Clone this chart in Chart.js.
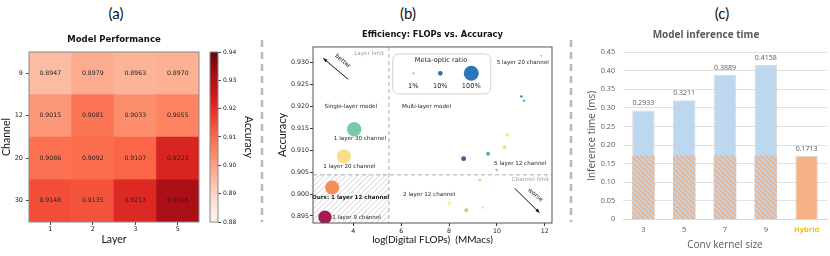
<!DOCTYPE html>
<html>
<head>
<meta charset="utf-8">
<script src="https://cdn.jsdelivr.net/npm/chart.js@4.4.0/dist/chart.umd.min.js"></script>
<style>
  html, body { margin: 0; padding: 0; background: #fff; }
  #wrap { position: relative; width: 830px; height: 256px; overflow: hidden; }
  canvas { position: absolute; top: 0; }
  .tag { position: absolute; top: 4px; font: 15px Lato, sans-serif; color: #111; transform: translateX(-50%); }
  svg { position: absolute; left: 0; top: 0; }
</style>
</head>
<body>
<div id="wrap">
  <svg width="830" height="256">
    <line x1="262" y1="40" x2="262" y2="222" stroke="#b8b8b8" stroke-width="2.5" stroke-dasharray="7 5"/>
    <line x1="571" y1="40" x2="571" y2="222" stroke="#b8b8b8" stroke-width="2.5" stroke-dasharray="7 5"/>
  </svg>
  <div class="tag" style="left:116px">(a)</div>
  <div class="tag" style="left:408px">(b)</div>
  <div class="tag" style="left:722px">(c)</div>
  <canvas id="heat" width="232" height="256" style="left:0;width:232px;height:256px"></canvas>
  <canvas id="cbar" width="60" height="256" style="left:200px;width:60px;height:256px"></canvas>
  <canvas id="eff" width="300" height="256" style="left:262px;width:300px;height:256px"></canvas>
  <canvas id="inf" width="245" height="256" style="left:585px;width:245px;height:256px"></canvas>
</div>
<script>
// (a) model performance, rows = channels, columns = layers
const layers = ['1', '2', '3', '5'];
const channels = ['9', '12', '20', '30'];
const acc9 = [0.8947, 0.8979, 0.8963, 0.8970];
const acc12 = [0.9015, 0.9081, 0.9033, 0.9055];
const acc20 = [0.9086, 0.9092, 0.9107, 0.9223];
const acc30 = [0.9148, 0.9135, 0.9213, 0.9316];
const accRange = [0.88, 0.94];

// (b) log digital FLOPs and meta-optic ratio (%), same layer order
const flops9 = [2.82, 8.02, 8.72, 9.40];
const flops12 = [3.12, 8.61, 9.29, 9.99];
const flops20 = [3.61, 9.63, 10.32, 11.02];
const flops30 = [4.04, 10.43, 11.13, 11.85];
const ratio9 = [80, 9, 7, 4];
const ratio12 = [87, 11, 5, 3];
const ratio20 = [87, 7, 5, 3];
const ratio30 = [92, 5, 3, 2];
const legendRatios = [1, 10, 100];

// (c) inference time (ms)
const kernels = ['3', '5', '7', '9', 'Hybrid'];
const convTime = [0.2933, 0.3211, 0.3889, 0.4158, null];
const opticPart = [0.1713, 0.1713, 0.1713, 0.1713, null];
const hybridTime = [null, null, null, null, 0.1713];

const accRows = [acc9, acc12, acc20, acc30];
const flopRows = [flops9, flops12, flops20, flops30];
const ratioRows = [ratio9, ratio12, ratio20, ratio30];

const MPL = '"DejaVu Sans", sans-serif';
const LATO = 'Lato, sans-serif';
const OPEN = '"Open Sans", sans-serif';

// matplotlib "Reds"
const redStops = ['#fff5f0','#fee0d2','#fcbba1','#fc9272','#fb6a4a','#ef3b2c','#cb181d','#a50f15','#67000d'];
function hex(h) { return [1, 3, 5].map(i => parseInt(h.substr(i, 2), 16)); }
function reds(v) {
  let t = (v - accRange[0]) / (accRange[1] - accRange[0]);
  t = Math.max(0, Math.min(1, t)) * 8;
  const i = Math.min(7, Math.floor(t)), f = t - i;
  const a = hex(redStops[i]), b = hex(redStops[i + 1]);
  return 'rgb(' + a.map((c, k) => Math.round(c + (b[k] - c) * f)).join(',') + ')';
}

const fitW = w => s => { s.width = w; };
const fitH = h => s => { s.height = h; };

const frame = color => ({
  id: 'frame',
  afterDraw(chart) {
    const {ctx, chartArea: a} = chart;
    ctx.save();
    ctx.strokeStyle = color;
    ctx.lineWidth = 1;
    ctx.strokeRect(a.left, a.top, a.width, a.height);
    ctx.restore();
  }
});

// ---------- (a) heat map ----------
const cellText = {
  id: 'cellText',
  afterDatasetsDraw(chart) {
    const ctx = chart.ctx;
    ctx.save();
    ctx.font = '6.2px ' + MPL;
    ctx.fillStyle = '#222';
    ctx.textAlign = 'center';
    ctx.textBaseline = 'middle';
    chart.data.datasets.forEach((ds, i) => {
      chart.getDatasetMeta(i).data.forEach((bar, j) => {
        ctx.fillText(accRows[ds.row][j].toFixed(4), bar.x, (bar.y + bar.base) / 2);
      });
    });
    ctx.restore();
  }
};

const heatSets = [];
for (let r = channels.length - 1; r >= 0; r--) {
  heatSets.push({
    label: channels[r],
    row: r,
    data: layers.map(() => 1),
    backgroundColor: accRows[r].map(reds),
    borderWidth: 0,
    barPercentage: 1,
    categoryPercentage: 1
  });
}

new Chart(document.getElementById('heat'), {
  type: 'bar',
  data: { labels: layers, datasets: heatSets },
  options: {
    responsive: false, animation: false,
    layout: { padding: { left: 0, right: 33, top: 0, bottom: 0 } },
    plugins: {
      legend: { display: false }, tooltip: { enabled: false },
      title: { display: true, text: 'Model Performance', fullSize: false, color: '#111',
        font: { family: MPL, size: 8.5, weight: 'bold' }, padding: { top: 34.9, bottom: 6.9 } }
    },
    scales: {
      x: {
        stacked: true, afterFit: fitH(34),
        grid: { drawOnChartArea: false, tickLength: 3, color: '#444', offset: false },
        border: { display: false },
        ticks: { font: { family: MPL, size: 6.5 }, color: '#222', padding: 0.5 },
        title: { display: true, text: 'Layer', color: '#111', font: { family: LATO, size: 10.5 }, padding: { top: 0, bottom: 10 } }
      },
      y: {
        stacked: true, min: 0, max: 4, afterFit: fitW(29),
        afterBuildTicks: s => { s.ticks = [0.5, 1.5, 2.5, 3.5].map(v => ({ value: v })); },
        grid: { drawOnChartArea: false, tickLength: 3, color: '#444' },
        border: { display: false },
        ticks: { font: { family: MPL, size: 6.5 }, color: '#222', padding: 3,
          callback: v => channels[channels.length - 1 - Math.floor(v)] },
        title: { display: true, text: 'Channel', color: '#111', font: { family: LATO, size: 10.5 }, padding: { top: 0, bottom: 0 } }
      }
    }
  },
  plugins: [cellText, frame('#888')]
});

// colour bar
new Chart(document.getElementById('cbar'), {
  type: 'bar',
  data: {
    labels: [''],
    datasets: [{
      data: [accRange.slice()],
      barPercentage: 1, categoryPercentage: 1, borderWidth: 0,
      backgroundColor: c => {
        const a = c.chart.chartArea;
        if (!a) return redStops[4];
        const g = c.chart.ctx.createLinearGradient(0, a.bottom, 0, a.top);
        redStops.forEach((s, k) => g.addColorStop(k / 8, s));
        return g;
      }
    }]
  },
  options: {
    responsive: false, animation: false,
    layout: { padding: { left: 10, right: 0, top: 52, bottom: 34 } },
    plugins: { legend: { display: false }, tooltip: { enabled: false } },
    scales: {
      x: { display: false },
      y: {
        position: 'right', min: accRange[0], max: accRange[1], afterFit: fitW(42),
        grid: { drawOnChartArea: false, tickLength: 3, color: '#444' },
        border: { display: false },
        ticks: { stepSize: 0.01, font: { family: MPL, size: 6 }, color: '#222', padding: 2,
          callback: v => v.toFixed(2) },
        title: { display: true, text: 'Accuracy', color: '#111', font: { family: LATO, size: 10.5 }, padding: { top: 5.5, bottom: 0 } }
      }
    }
  },
  plugins: [frame('#888')]
});

// ---------- (b) efficiency scatter ----------
const dotColors = [
  ['#a51b56', '#f4f9a3', '#a8dc7e', '#e2f399'],
  ['#f78c57', '#5e4fa2', '#c5e99b', '#8ad1a8'],
  ['#fddd8a', '#52b69c', '#fdcf7c', '#3a8fc0'],
  ['#78c9a5', '#d7ef8a', '#5fbda8', '#fdae61']
];
const radius = ratio => 7.5 * Math.sqrt(ratio / 100);

const pts = [], ptColors = [];
channels.forEach((ch, r) => {
  layers.forEach((ly, j) => {
    pts.push({ x: flopRows[r][j], y: accRows[r][j], r: radius(ratioRows[r][j]) });
    ptColors.push(dotColors[r][j]);
  });
});

const effNotes = {
  id: 'effNotes',
  beforeDatasetsDraw(chart) {
    const {ctx, chartArea: a, scales: {x, y}} = chart;
    const lx = x.getPixelForValue(5.49), ly = y.getPixelForValue(0.9044);
    ctx.save();
    ctx.beginPath();
    ctx.rect(a.left, ly, lx - a.left, a.bottom - ly);
    ctx.clip();
    ctx.strokeStyle = '#c6c6c6';
    ctx.lineWidth = 0.8;
    for (let k = -80; k < 120; k += 5.5) {
      ctx.beginPath();
      ctx.moveTo(a.left + k, a.bottom);
      ctx.lineTo(a.left + k + 70, a.bottom - 70);
      ctx.stroke();
    }
    ctx.restore();

    ctx.save();
    ctx.strokeStyle = '#aaa';
    ctx.lineWidth = 1;
    ctx.setLineDash([4, 3]);
    ctx.beginPath();
    ctx.moveTo(lx, a.top); ctx.lineTo(lx, a.bottom);
    ctx.moveTo(a.left, ly); ctx.lineTo(a.right, ly);
    ctx.stroke();
    ctx.restore();
  },
  afterDatasetsDraw(chart) {
    const {ctx, chartArea: a, scales: {x, y}} = chart;
    const X = v => x.getPixelForValue(v), Y = v => y.getPixelForValue(v);
    ctx.save();
    ctx.textBaseline = 'middle';
    ctx.textAlign = 'center';
    ctx.fillStyle = '#222';
    const notes = [
      ['Single-layer model', 3.90, 0.9199],
      ['Multi-layer model', 7.06, 0.9200],
      ['5 layer 20 channel', 11.08, 0.9301],
      ['1 layer 30 channel', 4.28, 0.9126],
      ['1 layer 20 channel', 3.84, 0.9063],
      ['5 layer 12 channel', 10.97, 0.9070],
      ['2 layer 12 channel', 7.17, 0.9000],
      ['1 layer 9 channel', 4.14, 0.8947]
    ];
    ctx.font = '5.6px ' + MPL;
    notes.forEach(n => ctx.fillText(n[0], X(n[1]), Y(n[2])));
    ctx.font = 'bold 5.6px ' + MPL;
    ctx.fillText('Ours: 1 layer 12 channel', X(3.89), Y(0.8993));

    ctx.fillStyle = '#999';
    ctx.textAlign = 'right';
    ctx.font = '5.6px ' + MPL;
    ctx.fillText('Layer limit', X(5.28), Y(0.93215));
    ctx.fillText('Channel limit', X(12.17), Y(0.90322));

    // arrows
    const arrow = (x1, y1, x2, y2) => {
      const ang = Math.atan2(y2 - y1, x2 - x1);
      ctx.strokeStyle = '#111';
      ctx.fillStyle = '#111';
      ctx.lineWidth = 1;
      ctx.beginPath(); ctx.moveTo(x1, y1); ctx.lineTo(x2, y2); ctx.stroke();
      ctx.beginPath();
      ctx.moveTo(x2, y2);
      ctx.lineTo(x2 - 4.5 * Math.cos(ang - 0.4), y2 - 4.5 * Math.sin(ang - 0.4));
      ctx.lineTo(x2 - 4.5 * Math.cos(ang + 0.4), y2 - 4.5 * Math.sin(ang + 0.4));
      ctx.closePath(); ctx.fill();
    };
    arrow(X(3.79), Y(0.92621), X(2.75), Y(0.93100));
    arrow(X(10.74), Y(0.90132), X(11.78), Y(0.89575));
    const rotText = (t, px, py) => {
      ctx.save();
      ctx.translate(px, py);
      ctx.rotate(40 * Math.PI / 180);
      ctx.textAlign = 'center';
      ctx.fillStyle = '#222';
      ctx.font = '6px ' + MPL;
      ctx.fillText(t, 0, 0);
      ctx.restore();
    };
    rotText('better', X(3.56), Y(0.93039));
    rotText('worse', X(11.6), Y(0.8998));

    // size legend
    const lx = a.left + 79.7, ly = a.top + 7;
    ctx.beginPath();
    ctx.roundRect(lx, ly, 98, 40, 6);
    ctx.fillStyle = 'rgba(255,255,255,0.9)';
    ctx.fill();
    ctx.strokeStyle = '#c8c8c8';
    ctx.lineWidth = 0.8;
    ctx.stroke();
    ctx.fillStyle = '#222';
    ctx.textAlign = 'center';
    ctx.font = '6.6px ' + MPL;
    ctx.fillText('Meta-optic ratio', lx + 48.3, ly + 6);
    const lxs = [20.6, 47.6, 78.6];
    legendRatios.forEach((rt, k) => {
      ctx.beginPath();
      ctx.arc(lx + lxs[k], ly + 19.3, radius(rt), 0, Math.PI * 2);
      ctx.fillStyle = '#2e74b8';
      ctx.fill();
      ctx.fillStyle = '#222';
      ctx.fillText(rt + '%', lx + lxs[k], ly + 32);
    });
    ctx.restore();
  }
};

new Chart(document.getElementById('eff'), {
  type: 'bubble',
  data: { datasets: [{ data: pts, backgroundColor: ptColors, borderWidth: 0, hoverRadius: 0 }] },
  options: {
    responsive: false, animation: false,
    layout: { padding: { left: 0, right: 10, top: 0, bottom: 0 } },
    plugins: {
      legend: { display: false }, tooltip: { enabled: false },
      title: { display: true, text: 'Efficiency: FLOPs vs. Accuracy', fullSize: false, color: '#111',
        font: { family: MPL, size: 8.3, weight: 'bold' }, padding: { top: 30, bottom: 7 } }
    },
    scales: {
      x: {
        type: 'linear', min: 2.32, max: 12.3, afterFit: fitH(33),
        grid: { drawOnChartArea: false, tickLength: 3, color: '#333' },
        border: { display: false },
        ticks: { stepSize: 2, includeBounds: false, font: { family: MPL, size: 6.3 }, color: '#222', padding: 2 },
        title: { display: true, text: 'log(Digital FLOPs)  (MMacs)', color: '#111', font: { family: LATO, size: 10 }, padding: { top: 0, bottom: 10 } }
      },
      y: {
        min: 0.8934, max: 0.9336, afterFit: fitW(51),
        grid: { drawOnChartArea: false, tickLength: 3, color: '#333' },
        border: { display: false },
        ticks: { stepSize: 0.005, includeBounds: false, font: { family: MPL, size: 6.3 }, color: '#222', padding: 1,
          callback: v => v.toFixed(3) },
        title: { display: true, text: 'Accuracy', color: '#111', font: { family: LATO, size: 11 }, padding: { top: 14, bottom: 0 } }
      }
    }
  },
  plugins: [effNotes, frame('#555')]
});

// ---------- (c) inference time ----------
function stripes() {
  const c = document.createElement('canvas');
  c.width = 5; c.height = 5;
  const g = c.getContext('2d');
  g.fillStyle = '#bdd7ee';
  g.fillRect(0, 0, 5, 5);
  g.strokeStyle = '#f4b183';
  g.lineWidth = 1.8;
  g.beginPath();
  g.moveTo(-1, -1); g.lineTo(6, 6);
  g.moveTo(-1, 4); g.lineTo(1, 6);
  g.moveTo(4, -1); g.lineTo(6, 1);
  g.stroke();
  return g.createPattern(c, 'repeat');
}

const barValues = {
  id: 'barValues',
  afterDatasetsDraw(chart) {
    const ctx = chart.ctx;
    ctx.save();
    ctx.font = '7px ' + OPEN;
    ctx.fillStyle = '#595959';
    ctx.textAlign = 'center';
    ctx.textBaseline = 'bottom';
    chart.data.datasets.forEach((ds, i) => {
      if (!ds.showValue) return;
      chart.getDatasetMeta(i).data.forEach((bar, j) => {
        if (ds.data[j] == null) return;
        ctx.fillText(ds.data[j].toFixed(4), bar.x, bar.y - 3.5);
      });
    });
    ctx.restore();
  }
};

new Chart(document.getElementById('inf'), {
  type: 'bar',
  data: {
    labels: kernels,
    datasets: [
      { label: 'Conv', data: convTime, showValue: true, order: 2, grouped: false,
        backgroundColor: '#bdd7ee', borderColor: 'rgba(120,120,120,0.25)', borderWidth: 1, borderSkipped: 'bottom' },
      { label: 'Optic part', data: opticPart, order: 1, grouped: false,
        backgroundColor: stripes(), borderWidth: 0 },
      { label: 'Hybrid', data: hybridTime, showValue: true, order: 0, grouped: false,
        backgroundColor: '#f4b183', borderColor: 'rgba(120,120,120,0.25)', borderWidth: 1, borderSkipped: 'bottom' }
    ]
  },
  options: {
    responsive: false, animation: false,
    barPercentage: 0.55, categoryPercentage: 1,
    layout: { padding: { left: 0, right: 3, top: 0, bottom: 0 } },
    plugins: {
      legend: { display: false }, tooltip: { enabled: false },
      title: { display: true, text: 'Model inference time', color: '#595959',
        font: { family: OPEN, size: 10, weight: 'bold' }, padding: { top: 29, bottom: 11.3 } }
    },
    scales: {
      x: {
        afterFit: fitH(36.7),
        grid: { display: false, drawTicks: false, tickLength: 0 },
        border: { display: true, color: '#d9d9d9' },
        ticks: {
          padding: 6, maxRotation: 0, autoSkip: false,
          color: c => c.index === 4 ? '#ffc000' : '#595959',
          font: c => ({ family: OPEN, size: 7.5, weight: c.index === 4 ? 'bold' : 'normal' })
        },
        title: { display: true, text: 'Conv kernel size', color: '#595959', font: { family: OPEN, size: 10 }, padding: { top: 0, bottom: 5 } }
      },
      y: {
        min: 0, max: 0.45, afterFit: fitW(38),
        grid: { color: '#d9d9d9', lineWidth: 0.8, drawTicks: false },
        border: { display: false },
        ticks: { stepSize: 0.05, padding: 8, color: '#595959', font: { family: OPEN, size: 7.2 } },
        title: { display: true, text: 'Inference time (ms)', color: '#595959', font: { family: OPEN, size: 10 }, padding: { top: 0.7, bottom: 0 } }
      }
    }
  },
  plugins: [barValues]
});
</script>
</body>
</html>
